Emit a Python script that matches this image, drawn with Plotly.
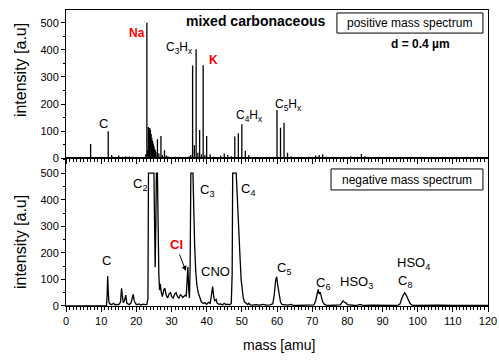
import plotly.graph_objects as go

# ---------------- data ----------------
pos_mass = [1, 2, 3, 4, 5, 6, 7, 8, 9, 10, 11, 12, 12.5, 13, 14, 15, 16, 17, 18, 19, 20, 21, 22,
            22.7, 23, 23.2, 23.4, 23.6, 23.8, 24, 24.2, 24.4, 24.6, 24.8, 25, 25.2, 25.4, 25.6,
            26, 26.4, 27, 27.4, 28, 28.5, 29, 30, 31, 32, 33, 34, 35, 35.5, 36, 36.5, 37, 37.5,
            38, 38.5, 39, 39.5, 40, 41, 42, 43, 44, 45, 46, 47, 48, 49, 50, 51, 52, 53, 54, 55,
            56, 57, 58, 59, 60, 61, 62, 63, 64, 65, 66, 67, 68, 69, 70, 71, 72, 73, 74, 75, 76,
            77, 78, 79, 80, 81, 82, 83, 84, 85, 86, 88, 90, 92, 95, 98, 101, 104, 108, 112, 116]
pos_int = [2, 2, 3, 2, 2, 3, 53, 3, 2, 2, 3, 100, 5, 12, 5, 10, 6, 8, 7, 6, 4, 3, 3,
           15, 500, 30, 115, 110, 112, 105, 90, 75, 65, 55, 45, 35, 30, 22,
           70, 18, 82, 12, 30, 10, 8, 5, 6, 4, 3, 3, 8, 12, 342, 48, 402, 20,
           104, 15, 343, 12, 82, 15, 6, 4, 10, 18, 12, 8, 80, 92, 126, 28, 12, 5, 4, 3,
           3, 4, 3, 5, 178, 113, 131, 20, 8, 5, 4, 3, 5, 6, 4, 10, 12, 15, 6, 3, 2,
           2, 2, 3, 2, 8, 3, 6, 16, 8, 3, 2, 2, 2, 2, 2, 2, 2, 2, 2, 2]

neg_mass = [0, 11.5, 11.7, 11.85, 12.0, 12.2, 12.5, 13.0, 13.5, 14.0, 14.5, 15.0, 15.5, 15.8,
            16.0, 16.3, 16.6, 17.0, 17.3, 17.7, 18.0, 18.5, 18.8, 19.1, 19.4, 19.8, 20.2,
            20.8, 21.3, 22.0, 22.5, 23.0, 23.3, 23.45, 25.0, 25.2, 25.35, 25.55, 25.7, 26.0,
            26.2, 26.4, 26.6, 26.8, 27.1, 27.4, 27.8, 28.1, 28.5, 28.9, 29.3, 29.7, 30.1,
            30.5, 30.9, 31.3, 31.7, 32.1, 32.5, 32.8, 33.2, 33.6, 33.9, 34.2, 34.45, 34.65,
            34.9, 35.1, 35.3, 35.5, 36.1, 36.3, 36.6, 36.9, 37.2, 37.6, 38.0, 38.5, 39.0,
            39.5, 40.0, 40.5, 41.0, 41.4, 41.7, 42.0, 42.3, 42.7, 43.0, 43.5, 44.0, 44.5,
            45.0, 45.5, 46.0, 46.5, 47.0, 47.25, 47.4, 48.4, 48.6, 48.9, 49.2, 49.5, 49.8,
            50.1, 50.4, 50.8, 51.2, 51.7, 52.0, 52.4, 53, 54, 55, 56, 57, 58, 58.8, 59.2,
            59.6, 59.9, 60.2, 60.6, 61.0, 61.4, 62, 63, 64, 64.5, 65.5, 67, 68, 69.5, 70.5,
            71.0, 71.4, 71.7, 72.0, 72.3, 72.6, 73.0, 73.5, 74, 75, 76, 77, 78.0, 78.4, 78.8,
            79.2, 79.6, 80.0, 81, 82, 83, 83.6, 84.2, 85, 87, 89, 91, 93, 94.5, 95.0, 95.5,
            96.0, 96.3, 96.7, 97.0, 97.4, 97.8, 98.3, 99, 101, 103, 106, 110, 114, 118, 120]
neg_int = [0, 0, 40, 113, 60, 15, 8, 5, 10, 4, 6, 5, 15, 67,
           40, 12, 20, 41, 10, 8, 5, 12, 25, 44, 20, 8, 5,
           8, 4, 7, 5, 6, 30, 500, 500, 300, 146, 300, 500, 500,
           250, 120, 60, 83, 50, 35, 60, 67, 40, 30, 45, 50, 35,
           30, 45, 50, 35, 30, 42, 40, 32, 35, 40, 38, 100, 148,
           60, 30, 150, 500, 500, 350, 220, 130, 80, 50, 30, 15, 10,
           12, 6, 14, 10, 40, 73, 35, 20, 25, 10, 6, 8, 4,
           10, 5, 7, 4, 10, 120, 500, 500, 430, 330, 240, 180, 100,
           50, 30, 15, 10, 5, 10, 4, 3, 5, 3, 6, 3, 4, 8, 40,
           95, 110, 80, 40, 15, 6, 4, 3, 6, 3, 2, 3, 2, 3, 4,
           20, 50, 63, 45, 52, 35, 15, 6, 3, 2, 2, 3, 4, 12, 19,
           14, 12, 5, 3, 2, 3, 6, 3, 2, 3, 2, 3, 2, 3, 8, 30,
           45, 50, 42, 35, 22, 10, 4, 2, 3, 2, 3, 2, 3, 2, 2]

x_ticks = list(range(0, 121, 10))
y_ticks = [0, 100, 200, 300, 400, 500]

# ---------------- figure ----------------
FONT = "Arial, Liberation Sans, sans-serif"

stick_x, stick_y = [], []
for m, v in zip(pos_mass, pos_int):
    stick_x += [m, m, None]
    stick_y += [0, v, None]

fig = go.Figure()
fig.add_trace(go.Scatter(x=stick_x, y=stick_y, mode="lines", xaxis="x2", yaxis="y2",
                         line=dict(color="black", width=1.3), hoverinfo="skip", showlegend=False))
fig.add_trace(go.Scatter(x=neg_mass, y=neg_int, mode="lines", xaxis="x", yaxis="y",
                         line=dict(color="black", width=1.3), showlegend=False))

xcommon = dict(range=[0, 120], tickvals=x_ticks, ticks="outside", ticklen=5, tickwidth=1,
               tickcolor="black", showline=True, linecolor="black", linewidth=1, mirror=True,
               showgrid=False, zeroline=False, automargin=False,
               minor=dict(ticks="outside", dtick=1, ticklen=3, tickcolor="black", showgrid=False),
               tickfont=dict(family=FONT, size=11, color="black"))
ycommon = dict(tickvals=y_ticks, ticks="outside", ticklen=4, tickwidth=1, tickcolor="black",
               showline=True, linecolor="black", linewidth=1, mirror=True, showgrid=False,
               zeroline=False, automargin=False,
               minor=dict(ticks="outside", dtick=50, ticklen=2, tickcolor="black", showgrid=False),
               tickfont=dict(family=FONT, size=11, color="black"))

fig.update_layout(
    template="none",
    width=499, height=360, autosize=False,
    margin=dict(l=66, r=11, t=10, b=54, pad=0),
    paper_bgcolor="white", plot_bgcolor="white",
    font=dict(family=FONT, color="black"),
    xaxis=dict(**xcommon, anchor="y", domain=[0, 1]),
    xaxis2=dict(**xcommon, anchor="y2", matches="x", showticklabels=False),
    yaxis=dict(**ycommon, range=[0, 556], domain=[0, 0.499], anchor="x"),
    yaxis2=dict(**ycommon, range=[0, 547], domain=[0.499, 1], anchor="x2"),
)

ann = []
def lab(text, x, y, ref, size=13, color="black", bold=False):
    t = f"<b>{text}</b>" if bold else text
    ann.append(dict(text=t, x=x, y=y, xref="x" + ref, yref="y" + ref, showarrow=False,
                    font=dict(family=FONT, size=size, color=color), xanchor="center", yanchor="middle"))

def ptext(text, x, y, size, angle=0):
    ann.append(dict(text=text, x=x, y=y, xref="paper", yref="paper", showarrow=False,
                    xanchor="center", yanchor="middle", textangle=angle,
                    font=dict(family=FONT, size=size, color="black")))

# top (positive) labels
lab("C", 10.8, 130, "2")
lab("Na", 20.2, 462, "2", size=12, color="red", bold=True)
lab("C<sub>3</sub>H<sub>x</sub>", 32.4, 408, "2", size=12)
lab("K", 41.8, 362, "2", size=12, color="red", bold=True)
lab("C<sub>4</sub>H<sub>x</sub>", 52.3, 155, "2", size=12)
lab("C<sub>5</sub>H<sub>x</sub>", 63.4, 195, "2", size=12)

# bottom (negative) labels
lab("C", 11.4, 173, "")
lab("C<sub>2</sub>", 21.0, 458, "")
lab("C<sub>3</sub>", 40.1, 436, "")
lab("C<sub>4</sub>", 51.7, 440, "")
lab("Cl", 31.3, 230, "", color="red", bold=True)
lab("CNO", 42.6, 128, "")
lab("C<sub>5</sub>", 62.0, 142, "")
lab("C<sub>6</sub>", 73.1, 85, "")
lab("HSO<sub>3</sub>", 82.5, 89, "")
lab("HSO<sub>4</sub>", 98.9, 161, "")
lab("C<sub>8</sub>", 96.4, 93, "")

# arrow for Cl
ann.append(dict(text="", x=34.1, y=132, xref="x", yref="y", showarrow=True, arrowhead=2,
                arrowsize=1, arrowwidth=1, arrowcolor="black", ax=-7, ay=-18))

# paper texts
ptext("<b>mixed carbonaceous</b>", 0.448, 0.963, 14)
ptext("positive mass spectrum", 0.815, 0.956, 12)
ptext("<b>d = 0.4 µm</b>", 0.841, 0.885, 12)
ptext("negative mass spectrum", 0.808, 0.427, 12)
ptext("intensity [a.u]", -0.109, 0.797, 16, angle=-90)
ptext("intensity [a.u]", -0.109, 0.216, 16, angle=-90)
ptext("mass [amu]", 0.505, -0.132, 14)
fig.update_layout(annotations=ann)

fig.update_layout(shapes=[
    dict(type="rect", xref="paper", yref="paper", x0=0.642, x1=0.988, y0=0.922, y1=0.990,
         line=dict(color="black", width=1), fillcolor="rgba(0,0,0,0)", layer="above"),
    dict(type="rect", xref="paper", yref="paper", x0=0.628, x1=0.988, y0=0.392, y1=0.463,
         line=dict(color="black", width=1), fillcolor="rgba(0,0,0,0)", layer="above"),
])

# remove the default 8px page margin so the figure sits at the window's top-left corner
fig.write_html("out.html", config={"displayModeBar": False},
               post_script="document.body.style.margin='0';document.body.style.overflow='hidden';")
